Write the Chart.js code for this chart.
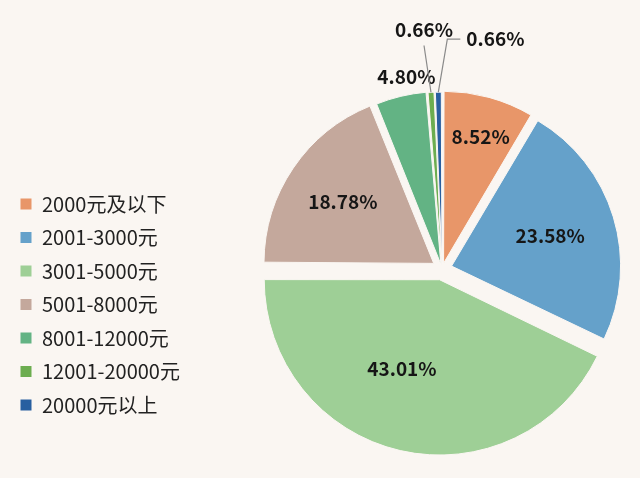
<!DOCTYPE html>
<html lang="zh-CN">
<head>
<meta charset="utf-8">
<script src="https://cdn.jsdelivr.net/npm/chart.js@4.4.0/dist/chart.umd.min.js"></script>
<style>
  html, body { margin: 0; padding: 0; background: #faf6f2; }
  #wrap { width: 640px; height: 478px; }
</style>
</head>
<body>
<div id="wrap"><canvas id="income-chart"></canvas></div>
<script>
// --- データ ---
const labels = ['2000元及以下', '2001-3000元', '3001-5000元', '5001-8000元', '8001-12000元', '12001-20000元', '20000元以上'];
const shares = [8.52, 23.58, 43.01, 18.78, 4.80, 0.66, 0.66];
const shareLabels = shares.map(v => v.toFixed(2) + '%');

// --- 見た目 ---
const BG = '#faf6f2';
const FONT = '"Noto Sans CJK SC", "Noto Sans", sans-serif';
const colors = ['#e89669', '#65a1ca', '#9ecf96', '#c4a89c', '#63b384', '#6cad50', '#285fa0'];
const OFFSET_DIV = 4;                 // Chart.js v4 は offset/4 だけ平行移動する
const shift = [6, 10, 11, 10, 5, 4, 4];   // 実際の飛び出し量(px)
const RADIUS = 169;
const LEGEND_W = 237.5;

// ラベル位置: 内側は半径比 r と角度補正 turn、外側は引き出し線
const labelPlace = [
    { r: 0.78, turn: 1 },
    { r: 0.61 },
    { r: 0.57, turn: 10 },
    { r: 0.65 },
    { r: 1.13, turn: 3 },
    { lead: [[-7, -47]], text: [-7, -63], align: 'center' },
    { lead: [[9, -53], [22, -53]], text: [28, -53], align: 'left' },
];

// 凡例の幅を固定して円の中心を右に寄せる
const legendWidth = {
    id: 'legendWidth',
    beforeInit(chart) {
        const fit = chart.legend.fit;
        chart.legend.fit = function () {
            fit.call(this);
            this.width = LEGEND_W;
        };
    }
};

const sliceLabels = {
    id: 'sliceLabels',
    afterDatasetsDraw(chart) {
        const { ctx } = chart;
        const arcs = chart.getDatasetMeta(0).data;
        ctx.save();
        ctx.font = `bold 19px ${FONT}`;
        ctx.fillStyle = '#161616';
        ctx.strokeStyle = '#8a8a8a';
        ctx.lineWidth = 1.2;
        ctx.textBaseline = 'middle';
        arcs.forEach((arc, i) => {
            const { x, y, startAngle, endAngle, outerRadius, circumference } =
                arc.getProps(['x', 'y', 'startAngle', 'endAngle', 'outerRadius', 'circumference'], true);
            const mid = (startAngle + endAngle) / 2;
            const off = (arc.options.offset || 0) / OFFSET_DIV;
            const cx = x + Math.cos(mid) * off;
            const cy = y + Math.sin(mid) * off;
            const place = labelPlace[i];
            if (place.lead) {
                // 描画時の半径の伸び (Chart.js と同じ補正)
                const r = outerRadius + off * (1 - Math.sin(Math.min(Math.PI, circumference)));
                const ox = cx + Math.cos(mid) * r;
                const oy = cy + Math.sin(mid) * r;
                ctx.beginPath();
                ctx.moveTo(ox, oy);
                place.lead.forEach(([dx, dy]) => ctx.lineTo(ox + dx, oy + dy));
                ctx.stroke();
                ctx.textAlign = place.align;
                ctx.fillText(shareLabels[i], ox + place.text[0], oy + place.text[1]);
            } else {
                const a = mid + (place.turn || 0) * Math.PI / 180;
                ctx.textAlign = 'center';
                ctx.fillText(shareLabels[i],
                    cx + Math.cos(a) * outerRadius * place.r,
                    cy + Math.sin(a) * outerRadius * place.r);
            }
        });
        ctx.restore();
    }
};

const chart = new Chart(document.getElementById('income-chart'), {
    type: 'pie',
    data: {
        labels: labels,
        datasets: [{
            data: shares,
            backgroundColor: colors,
            borderColor: BG,
            borderWidth: 1,
            offset: shift.map(d => d * OFFSET_DIV),
            radius: RADIUS
        }]
    },
    options: {
        responsive: true,
        maintainAspectRatio: false,
        animation: false,
        layout: { padding: { left: 6.5, right: 0, top: 109.5, bottom: 49.5 } },
        plugins: {
            legend: {
                position: 'left',
                align: 'end',
                labels: {
                    boxWidth: 12, boxHeight: 12, padding: 13.5,
                    color: '#222', font: { family: FONT, size: 20 }
                }
            },
            tooltip: { enabled: false }
        }
    },
    plugins: [legendWidth, sliceLabels]
});
</script>
</body>
</html>
